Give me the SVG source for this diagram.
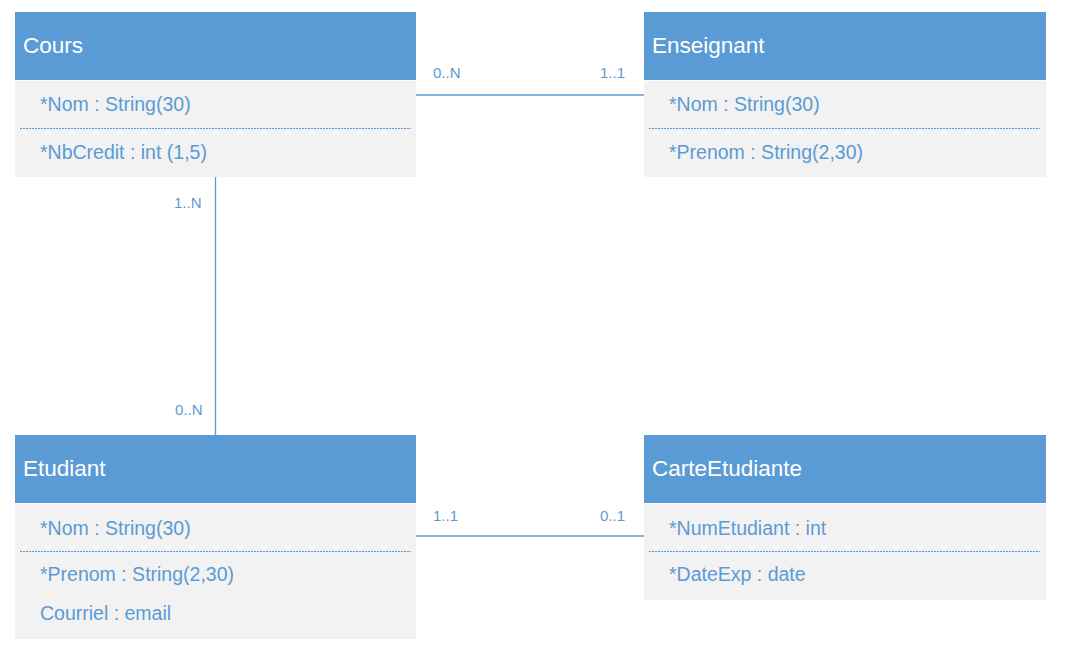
<svg xmlns="http://www.w3.org/2000/svg" width="1065" height="653" viewBox="0 0 1065 653">
<style>
.hdr{fill:#5B9BD5}
.body{fill:#F2F2F2}
.title{font-family:"Liberation Sans",Arial,sans-serif;font-size:22.5px;fill:#FFFFFF}
.attr{font-family:"Liberation Sans",Arial,sans-serif;font-size:19.5px;fill:#5B9BD5}
.sep{stroke:#5B9BD5;stroke-width:1;stroke-dasharray:2 1;fill:none}
.conn{stroke:#5B9BD5;stroke-width:1.3;fill:none}
.lbl{font-family:"Liberation Sans",Arial,sans-serif;font-size:15px;fill:#5B9BD5}
</style>
<rect width="1065" height="653" fill="#FFFFFF"/>
<g id="connectors">
<line class="conn" x1="416" y1="95" x2="644" y2="95"/>
<line class="conn" x1="215.5" y1="177" x2="215.5" y2="435"/>
<line class="conn" x1="416" y1="536" x2="644" y2="536"/>
<text class="lbl" x="433" y="78">0..N</text>
<text class="lbl" x="600" y="78">1..1</text>
<text class="lbl" x="174" y="208">1..N</text>
<text class="lbl" x="175" y="415">0..N</text>
<text class="lbl" x="433" y="521">1..1</text>
<text class="lbl" x="600" y="521">0..1</text>
</g>
<g id="Cours">
<rect class="hdr" x="15" y="12" width="401" height="68"/>
<rect class="body" x="15" y="81" width="401" height="96"/>
<text class="title" x="23" y="53">Cours</text>
<text class="attr" x="40" y="111">*Nom : String(30)</text>
<line class="sep" x1="20" y1="128.5" x2="411" y2="128.5"/>
<text class="attr" x="40" y="159">*NbCredit : int (1,5)</text>
</g>
<g id="Enseignant">
<rect class="hdr" x="644" y="12" width="402" height="68"/>
<rect class="body" x="644" y="81" width="402" height="96"/>
<text class="title" x="652" y="53">Enseignant</text>
<text class="attr" x="669" y="111">*Nom : String(30)</text>
<line class="sep" x1="649" y1="128.5" x2="1040" y2="128.5"/>
<text class="attr" x="669" y="159">*Prenom : String(2,30)</text>
</g>
<g id="Etudiant">
<rect class="hdr" x="15" y="435" width="401" height="68"/>
<rect class="body" x="15" y="504" width="401" height="135"/>
<text class="title" x="23" y="476">Etudiant</text>
<text class="attr" x="40" y="535">*Nom : String(30)</text>
<line class="sep" x1="20" y1="551.5" x2="411" y2="551.5"/>
<text class="attr" x="40" y="581">*Prenom : String(2,30)</text>
<text class="attr" x="40" y="620">Courriel : email</text>
</g>
<g id="CarteEtudiante">
<rect class="hdr" x="644" y="435" width="402" height="68"/>
<rect class="body" x="644" y="504" width="402" height="96"/>
<text class="title" x="652" y="476">CarteEtudiante</text>
<text class="attr" x="669" y="535">*NumEtudiant : int</text>
<line class="sep" x1="649" y1="551.5" x2="1040" y2="551.5"/>
<text class="attr" x="669" y="581">*DateExp : date</text>
</g>
</svg>
